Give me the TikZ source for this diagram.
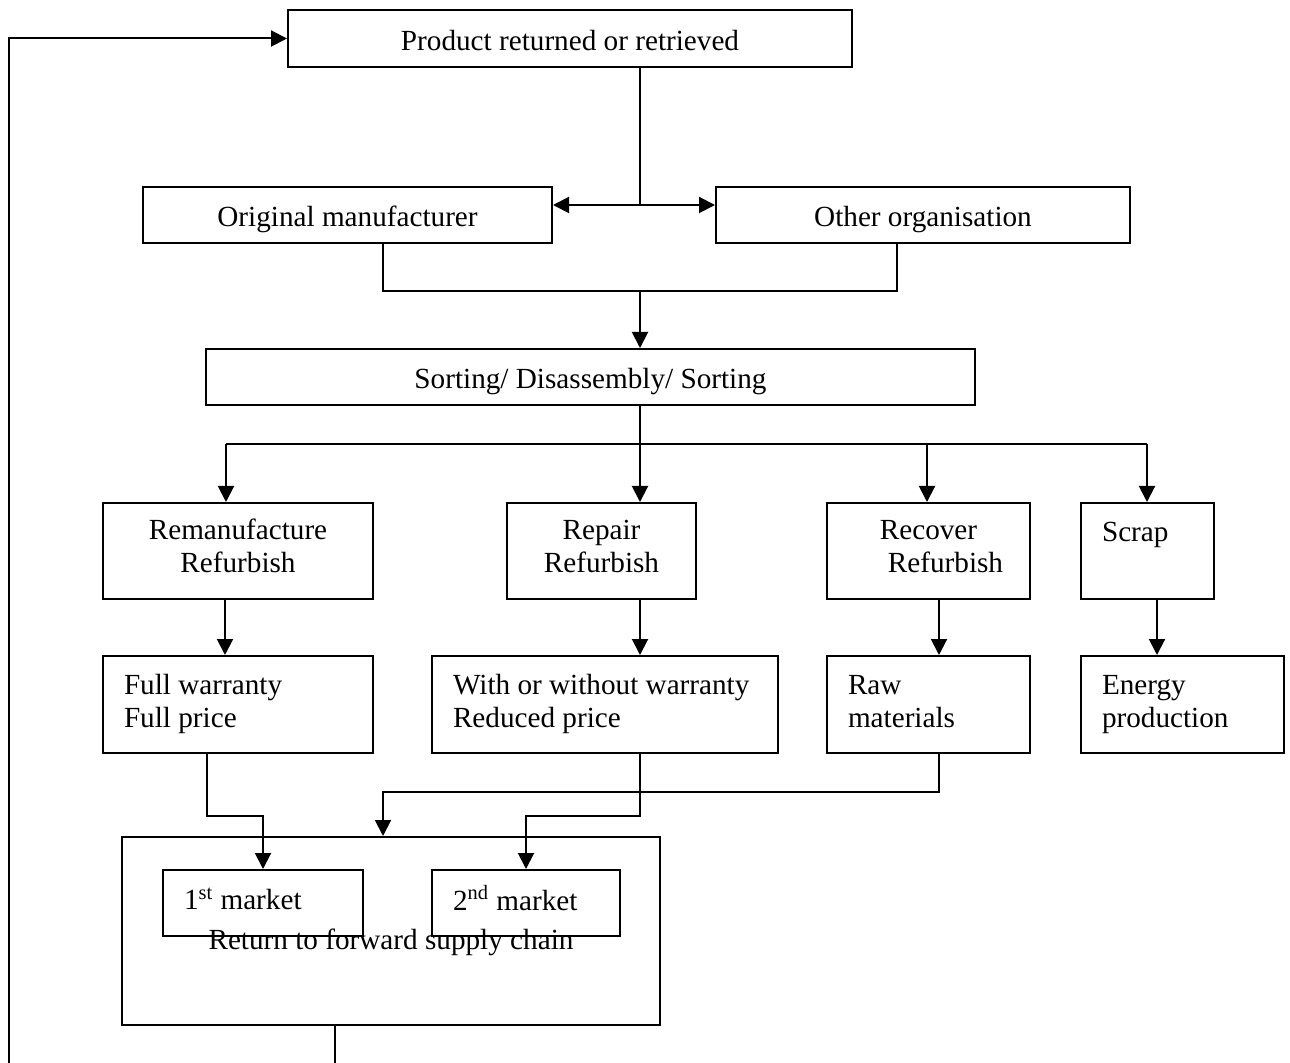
\documentclass[tikz,border=0pt]{standalone}
\usepackage{fontspec}
\setmainfont{Liberation Serif}
\usetikzlibrary{arrows.meta,calc,positioning}

\begin{document}
\begin{tikzpicture}[x=0.5pt,y=-0.5pt,line width=1pt,
  box/.style={draw,inner sep=0pt,font=\fontsize{14.6}{16.5}\selectfont,
    execute at begin node=\strut,execute at end node=\strut},
  cbox/.style={box,align=center},
  onebox/.style={cbox,text depth=0pt},
  lbox/.style={box,align=flush left,inner xsep=10.5pt},
  arr/.style={-{Triangle[length=8pt,width=8pt]}}]
\useasboundingbox (0,0) rectangle (1290,1063);
% top row
\draw (570,38.5) node (prod) [onebox,minimum width=282pt,minimum height=28.5pt] {Product returned or retrieved};
\draw (347.5,215) node (orig) [onebox,minimum width=204.5pt,minimum height=28pt] {Original manufacturer};
\draw (923,215) node (other) [onebox,minimum width=207pt,minimum height=28pt] {Other organisation};
\draw (590.5,377) node (sort) [onebox,minimum width=384.5pt,minimum height=28pt] {Sorting/ Disassembly/ Sorting};
% treatment options
\draw (238,551) node (reman) [cbox,minimum width=135pt,minimum height=48pt] {Remanufacture\\Refurbish};
\draw (601.5,551) node (repair) [cbox,minimum width=94.5pt,minimum height=48pt] {Repair\\Refurbish};
\draw (928.5,551) node (recover) [cbox,minimum width=101.5pt,minimum height=48pt] {Recover\\\hspace*{17pt}Refurbish};
\draw (1147.5,551) node (scrap) [lbox,text width=45.5pt,minimum height=48pt] {Scrap\\\phantom{R}};
% outcomes
\draw (238,704.5) node (full) [lbox,text width=114pt,minimum height=48.5pt] {Full warranty\\Full price};
\draw (605,704.5) node (with) [lbox,text width=152pt,minimum height=48.5pt] {With or without warranty\\Reduced price};
\draw (928.5,704.5) node (raw) [lbox,text width=80.5pt,minimum height=48.5pt] {Raw\\materials};
\draw (1182.5,704.5) node (energy) [lbox,text width=80.5pt,minimum height=48.5pt] {Energy\\production};
% return to forward supply chain
\draw (391,931) node (ret) [box,minimum width=269pt,minimum height=94pt] {};
\draw (263,903) node (m1) [lbox,text width=79pt,minimum height=33pt] {1\textsuperscript{st} market};
\draw (526,903) node (m2) [lbox,text width=73pt,minimum height=33pt] {2\textsuperscript{nd} market};
\draw (391,943) node (rettxt) [box,draw=none] {Return to forward supply chain};
% helper points
\coordinate (loopB) at (9,1063);
\coordinate (s1) at (640,205);
\coordinate (c1) at (383,291);
\coordinate (c2) at (897,291);
\coordinate (c3) at (640,291);
\coordinate (s2) at (640,444);
\coordinate (b1) at (226,444);
\coordinate (b2) at (927,444);
\coordinate (b3) at (1147,444);
\coordinate (j1) at (207,816);
\coordinate (j2) at (640,816);
\coordinate (j3) at (939,792);
\coordinate (j4) at (383,792);
\coordinate (retout) at (335,1063);
% connectors
\draw[arr] (loopB) |- (prod.west);
\draw (prod.south -| s1) -- (s1);
\draw[arr] (s1) -- (s1 -| orig.east);
\draw[arr] (s1) -- (s1 -| other.west);
\draw (orig.south -| c1) -- (c1) -- (c2) -- (other.south -| c2);
\draw[arr] (c3) -- (sort.north -| c3);
\draw (sort.south -| s2) -- (s2);
\draw (b1) -- (b3);
\draw[arr] (b1) -- (reman.north -| b1);
\draw[arr] (s2) -- (repair.north -| s2);
\draw[arr] (b2) -- (recover.north -| b2);
\draw[arr] (b3) -- (scrap.north -| b3);
\draw[arr] (reman.south -| 225,0) -- (full.north -| 225,0);
\draw[arr] (repair.south -| s2) -- (with.north -| s2);
\draw[arr] (recover.south -| j3) -- (raw.north -| j3);
\draw[arr] (scrap.south) ++(9.5,0) -- ($(energy.north -| scrap.south)+(9.5,0)$);
\draw[arr] (full.south -| j1) -- (j1) -| (m1.north);
\draw[arr] (with.south -| j2) -- (j2) -| (m2.north);
\draw[arr] (raw.south -| j3) -- (j3) -- (j4) -- (ret.north -| j4);
\draw (ret.south -| retout) -- (retout);
\end{tikzpicture}
\end{document}
